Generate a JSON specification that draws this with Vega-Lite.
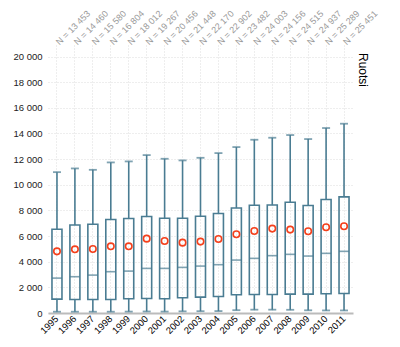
{
  "$schema": "https://vega.github.io/schema/vega-lite/v6.json",
  "width": 305,
  "height": 268,
  "autosize": {"type": "none"},
  "padding": {"left": 48, "top": 45, "right": 47, "bottom": 34},
  "background": "white",
  "config": {
    "font": "Liberation Sans",
    "view": {"stroke": null},
    "locale": {"number": {"decimal": ",", "thousands": "\u00a0", "grouping": [3], "currency": ["", " €"]}},
    "axisY": {"labelOverlap": false, "tickCount": 11}
  },
  "title": {
    "text": "Ruotsi",
    "orient": "right",
    "anchor": "start",
    "frame": "group",
    "angle": 90,
    "fontSize": 12,
    "fontWeight": "normal",
    "color": "#000000",
    "offset": -23,
    "dx": 8
  },
  "data": {
    "values": [
      {"year": "1995", "nlabel": "N = 13 453", "lo": 100, "q1": 1079, "med": 2721, "q3": 6528, "hi": 10985, "mean": 4808},
      {"year": "1996", "nlabel": "N = 14 460", "lo": 100, "q1": 1055, "med": 2830, "q3": 6865, "hi": 11274, "mean": 4965},
      {"year": "1997", "nlabel": "N = 15 580", "lo": 100, "q1": 1055, "med": 2955, "q3": 6919, "hi": 11166, "mean": 4990},
      {"year": "1998", "nlabel": "N = 16 804", "lo": 100, "q1": 1055, "med": 3221, "q3": 7287, "hi": 11743, "mean": 5199},
      {"year": "1999", "nlabel": "N = 18 012", "lo": 110, "q1": 1110, "med": 3268, "q3": 7365, "hi": 11821, "mean": 5199},
      {"year": "2000", "nlabel": "N = 19 267", "lo": 120, "q1": 1134, "med": 3479, "q3": 7521, "hi": 12314, "mean": 5800},
      {"year": "2001", "nlabel": "N = 20 456", "lo": 110, "q1": 1110, "med": 3479, "q3": 7389, "hi": 12027, "mean": 5614},
      {"year": "2002", "nlabel": "N = 21 448", "lo": 130, "q1": 1188, "med": 3557, "q3": 7389, "hi": 11900, "mean": 5488},
      {"year": "2003", "nlabel": "N = 22 170", "lo": 140, "q1": 1235, "med": 3659, "q3": 7545, "hi": 12103, "mean": 5567},
      {"year": "2004", "nlabel": "N = 22 902", "lo": 150, "q1": 1290, "med": 3768, "q3": 7756, "hi": 12470, "mean": 5770},
      {"year": "2005", "nlabel": "N = 23 482", "lo": 220, "q1": 1423, "med": 4128, "q3": 8194, "hi": 12940, "mean": 6138},
      {"year": "2006", "nlabel": "N = 24 003", "lo": 260, "q1": 1446, "med": 4261, "q3": 8405, "hi": 13512, "mean": 6396},
      {"year": "2007", "nlabel": "N = 24 156", "lo": 260, "q1": 1446, "med": 4472, "q3": 8428, "hi": 13668, "mean": 6583},
      {"year": "2008", "nlabel": "N = 24 515", "lo": 250, "q1": 1470, "med": 4574, "q3": 8640, "hi": 13878, "mean": 6505},
      {"year": "2009", "nlabel": "N = 24 937", "lo": 210, "q1": 1470, "med": 4441, "q3": 8381, "hi": 13565, "mean": 6372},
      {"year": "2010", "nlabel": "N = 25 289", "lo": 200, "q1": 1501, "med": 4652, "q3": 8851, "hi": 14425, "mean": 6685},
      {"year": "2011", "nlabel": "N = 25 451", "lo": 200, "q1": 1524, "med": 4808, "q3": 9054, "hi": 14762, "mean": 6763}
    ]
  },
  "resolve": {"scale": {"x": "independent"}},
  "layer": [
    {
      "encoding": {
        "x": {
          "field": "year",
          "type": "ordinal",
          "sort": null,
          "scale": {"paddingInner": 0, "paddingOuter": 0},
          "axis": {
            "title": null,
            "orient": "bottom",
            "labelAngle": -45,
            "labelAlign": "right",
            "labelBaseline": "middle",
            "labelFontSize": 9.5,
            "labelColor": "#000000",
            "labelPadding": 4,
            "labelOverlap": false,
            "ticks": false,
            "domain": true,
            "domainColor": "#bbbbbb",
            "domainWidth": 2,
            "grid": true,
            "gridColor": "#dddddd",
            "gridDash": [1, 2],
            "gridWidth": 1
          }
        }
      },
      "layer": [
        {
          "mark": {"type": "rule", "color": "#4a7c92", "strokeWidth": 1.6},
          "encoding": {
            "y": {
              "field": "lo",
              "type": "quantitative",
              "scale": {"domain": [0, 20900], "nice": false},
              "axis": {
                "title": null,
                "format": ",d",
                "tickCount": 11,
                "labelFontSize": 9.5,
                "labelColor": "#222222",
                "labelPadding": 6,
                "labelOverlap": false,
                "ticks": false,
                "domain": false,
                "grid": true,
                "gridColor": "#dddddd",
                "gridDash": [1, 2],
                "gridWidth": 1
              }
            },
            "y2": {"field": "q1"}
          }
        },
        {
          "mark": {"type": "rule", "color": "#4a7c92", "strokeWidth": 1.6},
          "encoding": {
            "y": {"field": "q3", "type": "quantitative"},
            "y2": {"field": "hi"}
          }
        },
        {
          "mark": {"type": "bar", "size": 10, "fill": "transparent", "stroke": "#4a7c92", "strokeWidth": 1.6},
          "encoding": {
            "y": {"field": "q1", "type": "quantitative"},
            "y2": {"field": "q3"}
          }
        },
        {
          "mark": {"type": "tick", "size": 10, "thickness": 1.6, "color": "#4a7c92"},
          "encoding": {"y": {"field": "med", "type": "quantitative"}}
        },
        {
          "mark": {"type": "tick", "size": 8, "thickness": 1.8, "color": "#4a7c92"},
          "encoding": {"y": {"field": "lo", "type": "quantitative"}}
        },
        {
          "mark": {"type": "tick", "size": 8, "thickness": 1.8, "color": "#4a7c92"},
          "encoding": {"y": {"field": "hi", "type": "quantitative"}}
        }
      ]
    },
    {
      "mark": {"type": "point", "shape": "circle", "filled": false, "size": 42, "strokeWidth": 1.6, "color": "#f4401c", "opacity": 1},
      "encoding": {
        "x": {
          "field": "nlabel",
          "type": "ordinal",
          "sort": null,
          "scale": {"paddingInner": 0, "paddingOuter": 0},
          "axis": {
            "title": null,
            "orient": "top",
            "labelAngle": -45,
            "labelAlign": "left",
            "labelBaseline": "middle",
            "labelFontSize": 9,
            "labelColor": "#999999",
            "labelPadding": 2,
            "labelOverlap": false,
            "ticks": false,
            "domain": false,
            "grid": false
          }
        },
        "y": {"field": "mean", "type": "quantitative"}
      }
    }
  ]
}
